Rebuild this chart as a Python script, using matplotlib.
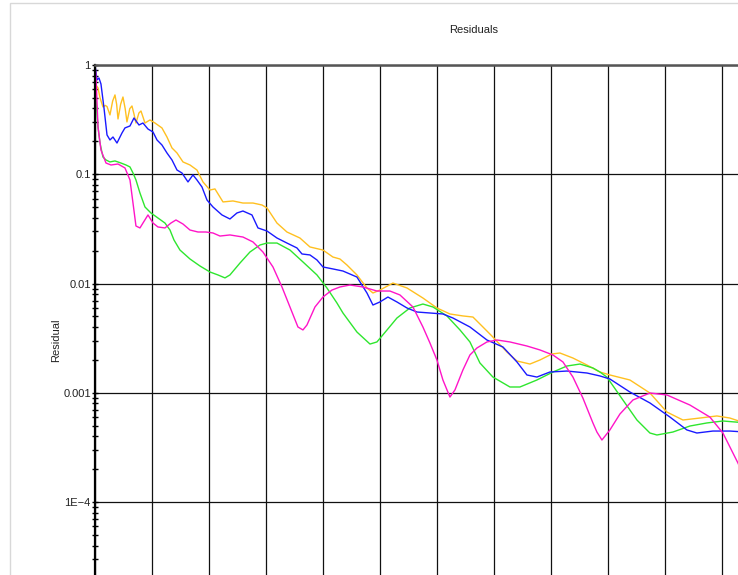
import numpy as np
import matplotlib.pyplot as plt
from matplotlib.patches import Rectangle
from matplotlib.ticker import LogLocator, FixedLocator, NullFormatter

plt.rcParams['font.family'] = ['Liberation Sans', 'DejaVu Sans']

# iteration numbers and log10(residual)
it_yellow = [0, 0.18, 0.53, 0.88, 1.40, 1.8, 2.11, 2.63, 3.1, 3.51, 3.8, 4.04, 4.5, 4.91, 5.3,
             5.61, 6.1, 6.49, 6.85, 7.19, 7.7, 8.07, 8.45, 8.77, 9.65, 10.53, 11.75, 12.63,
             13.51, 14.39, 15.44, 16.67, 17.89, 18.95, 20.18, 21.05, 21.93, 22.46, 24.21, 25.96,
             27.72, 29.30, 30.18, 31.93, 33.68, 35.96, 37.72, 40.0, 41.75, 42.98, 44.21, 45.96,
             47.72, 48.77, 50.0, 52.28, 54.74, 57.54, 60.0, 62.28, 64.56, 66.32, 68.07, 69.82,
             72.28, 74.04, 76.32, 78.07, 80.18, 81.58, 83.86, 86.32, 88.6, 90.35, 93.86, 97.37,
             100.35, 103.16, 106.14, 109.12, 111.4, 116.67]
log_yellow = [0, -0.183, -0.21, -0.30, -0.384, -0.37, -0.38, -0.457, -0.33, -0.274, -0.36,
              -0.494, -0.36, -0.293, -0.40, -0.521, -0.40, -0.375, -0.45, -0.531, -0.44, -0.421,
              -0.48, -0.531, -0.503, -0.531, -0.576, -0.659, -0.759, -0.805, -0.887, -0.915,
              -0.961, -1.070, -1.144, -1.134, -1.208, -1.253, -1.244, -1.263, -1.263, -1.281,
              -1.308, -1.446, -1.528, -1.583, -1.665, -1.693, -1.757, -1.775, -1.830, -1.921,
              -2.040, -2.086, -2.059, -1.995, -2.040, -2.132, -2.223, -2.278, -2.296, -2.306,
              -2.397, -2.489, -2.626, -2.708, -2.736, -2.699, -2.644, -2.635, -2.681, -2.745,
              -2.809, -2.836, -2.882, -3.001, -3.175, -3.248, -3.230, -3.211, -3.230, -3.321]

it_blue = [0, 0.35, 0.70, 1.05, 1.58, 2.11, 2.63, 3.16, 3.86, 4.74, 5.26, 6.14, 6.84, 7.72,
           8.42, 9.30, 10.18, 10.88, 11.75, 12.63, 13.51, 14.39, 15.26, 16.32, 17.19, 17.89,
           18.77, 19.65, 20.70, 22.28, 23.68, 24.91, 25.96, 27.54, 28.60, 30.18, 31.93, 33.68,
           35.44, 36.32, 37.72, 38.95, 40.0, 41.75, 43.51, 45.96, 47.72, 48.77, 50.0, 51.40,
           52.98, 54.74, 56.49, 58.77, 61.05, 62.81, 65.79, 68.77, 71.58, 74.04, 75.79, 77.54,
           79.82, 82.81, 86.32, 88.60, 90.35, 93.86, 97.37, 100.88, 103.86, 105.61, 108.42,
           111.4, 116.67]
log_blue = [0, -0.137, -0.119, -0.174, -0.393, -0.640, -0.686, -0.659, -0.714, -0.622, -0.576,
            -0.558, -0.485, -0.549, -0.531, -0.586, -0.613, -0.686, -0.732, -0.805, -0.869,
            -0.961, -0.988, -1.070, -1.006, -1.052, -1.116, -1.235, -1.299, -1.372, -1.409,
            -1.354, -1.336, -1.372, -1.491, -1.519, -1.583, -1.629, -1.674, -1.729, -1.738,
            -1.784, -1.848, -1.866, -1.885, -1.940, -2.086, -2.196, -2.168, -2.123, -2.168,
            -2.223, -2.260, -2.269, -2.278, -2.315, -2.397, -2.516, -2.580, -2.717, -2.836,
            -2.855, -2.809, -2.800, -2.818, -2.845, -2.873, -2.992, -3.092, -3.221, -3.339,
            -3.367, -3.349, -3.349, -3.367]

it_green = [0, 0.18, 0.53, 0.88, 1.40, 1.93, 2.63, 3.51, 4.56, 5.44, 6.14, 6.67, 7.19, 7.89,
            8.77, 9.82, 11.05, 12.28, 13.16, 13.86, 14.91, 16.67, 18.42, 20.18, 21.58, 22.81,
            23.68, 25.44, 27.19, 28.95, 30.18, 31.93, 34.21, 36.49, 38.95, 40.70, 42.46, 43.51,
            45.96, 48.25, 49.47, 51.23, 52.98, 55.26, 57.54, 59.30, 61.75, 64.04, 65.79, 67.54,
            69.82, 72.81, 74.56, 77.54, 80.35, 82.81, 85.09, 87.37, 88.60, 89.82, 92.63, 95.09,
            97.37, 98.60, 101.40, 104.39, 107.37, 110.18, 116.67]
log_green = [0, -0.320, -0.567, -0.714, -0.842, -0.869, -0.887, -0.878, -0.897, -0.915, -0.933,
             -0.988, -1.052, -1.171, -1.299, -1.354, -1.400, -1.446, -1.510, -1.601, -1.693,
             -1.775, -1.839, -1.894, -1.921, -1.948, -1.921, -1.812, -1.711, -1.647, -1.629,
             -1.629, -1.693, -1.802, -1.921, -2.040, -2.178, -2.269, -2.443, -2.553, -2.534,
             -2.425, -2.315, -2.223, -2.187, -2.214, -2.296, -2.424, -2.534, -2.726, -2.855,
             -2.946, -2.946, -2.882, -2.809, -2.754, -2.736, -2.772, -2.809, -2.855, -3.065,
             -3.248, -3.367, -3.385, -3.358, -3.303, -3.275, -3.257, -3.285]

it_magenta = [0, 0.18, 0.53, 1.05, 1.93, 2.81, 4.04, 5.26, 6.14, 6.67, 7.19, 7.89, 8.42, 9.30,
              10.18, 11.05, 12.28, 13.33, 14.21, 15.44, 16.67, 18.07, 19.47, 20.70, 21.93,
              23.68, 25.96, 27.72, 29.47, 31.23, 32.81, 34.21, 35.61, 36.49, 37.19, 38.60, 40.0,
              41.58, 42.98, 44.74, 47.02, 49.47, 51.75, 53.51, 55.79, 57.54, 58.77, 60.0, 61.05,
              62.28, 63.16, 64.56, 65.79, 67.02, 68.77, 70.53, 72.81, 75.79, 78.07, 80.35, 82.11,
              83.86, 85.61, 87.37, 88.07, 88.95, 90.35, 92.11, 94.39, 97.37, 100.35, 104.39,
              107.89, 110.18, 112.81, 114.91]
log_magenta = [0, -0.110, -0.567, -0.778, -0.897, -0.915, -0.906, -0.942, -1.052, -1.263, -1.473,
               -1.491, -1.446, -1.372, -1.446, -1.482, -1.491, -1.446, -1.418, -1.455, -1.510,
               -1.528, -1.528, -1.537, -1.565, -1.555, -1.574, -1.619, -1.711, -1.848, -2.031,
               -2.214, -2.397, -2.424, -2.379, -2.214, -2.123, -2.059, -2.031, -2.013, -2.031,
               -2.068, -2.068, -2.104, -2.214, -2.397, -2.543, -2.699, -2.882, -3.038, -2.973,
               -2.790, -2.653, -2.589, -2.534, -2.516, -2.534, -2.571, -2.607, -2.653, -2.717,
               -2.855, -3.047, -3.275, -3.358, -3.431, -3.339, -3.193, -3.065, -3.001, -3.019,
               -3.111, -3.221, -3.367, -3.641, -3.888]

decades = [1, 0.1, 0.01, 0.001, 1e-4]
decade_labels = ['1', '0.1', '0.01', '0.001', '1E\u22124']

fig = plt.figure(figsize=(7.38, 5.75), dpi=100)
fig.patches.append(Rectangle((10 / 738, -0.1), 1.2, 1.1 - 3 / 575, transform=fig.transFigure,
                             fill=False, edgecolor='#d8d8d8', lw=1.0))

# plot area runs past the right and bottom edges of the picture
ax = fig.add_axes([0.1287, -0.0635, 1.0271, 0.9505])
ax.set_yscale('log')
ax.set_ylim(1e-5, 1)
ax.set_xlim(0, 133)

style = dict(lw=1.0, solid_joinstyle='round', solid_capstyle='round')
ax.plot(it_yellow, 10 ** np.array(log_yellow), color='#ffc020', **style)
ax.plot(it_green, 10 ** np.array(log_green), color='#2ee62e', **style)
ax.plot(it_blue, 10 ** np.array(log_blue), color='#1a1aff', **style)
ax.plot(it_magenta, 10 ** np.array(log_magenta), color='#ff14c8', **style)

ax.xaxis.set_major_locator(FixedLocator(np.arange(0, 140, 10)))
ax.set_xticklabels([])
ax.tick_params(axis='x', length=0)
ax.set_yticks(decades)
ax.set_yticklabels(decade_labels)
ax.yaxis.set_minor_locator(LogLocator(base=10, subs=np.arange(2, 10), numticks=20))
ax.yaxis.set_minor_formatter(NullFormatter())
ax.tick_params(axis='y', which='both', direction='inout', length=4, width=1.0, color='black',
               labelsize=8, labelcolor='#222222', pad=1)

ax.grid(True, which='major', color='#111111', lw=0.9)
for side in ['right', 'bottom']:
    ax.spines[side].set_visible(False)
ax.spines['top'].set_color('#555555')
ax.spines['top'].set_linewidth(1.8)
ax.spines['left'].set_color('black')
ax.spines['left'].set_linewidth(1.6)

fig.text(474 / 738, 1 - 30 / 575, 'Residuals', ha='center', va='center', fontsize=8,
         color='#222222')
fig.text(56 / 738, 1 - 340 / 575, 'Residual', ha='center', va='center', rotation=90,
         fontsize=8, color='#222222')

fig.savefig('out.png', dpi=100)
